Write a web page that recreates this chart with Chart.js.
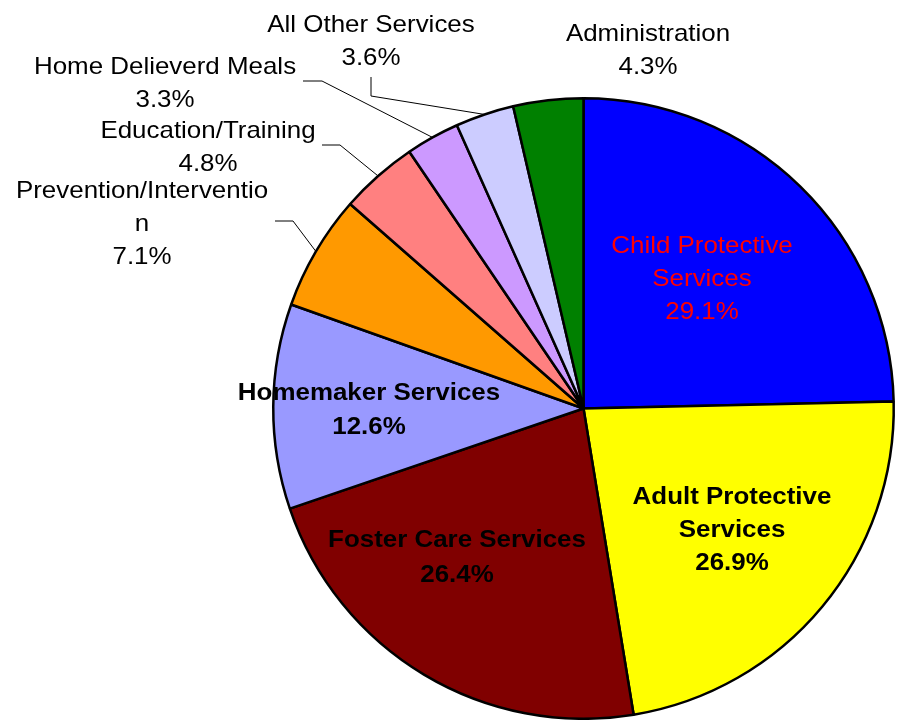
<!DOCTYPE html>
<html>
<head>
<meta charset="utf-8">
<script src="https://cdn.jsdelivr.net/npm/chart.js@4.4.0/dist/chart.umd.min.js"></script>
<style>
  html, body { margin: 0; padding: 0; background: #fff; }
  #wrap { width: 900px; height: 720px; }
</style>
</head>
<body>
<div id="wrap"><canvas id="pie" width="900" height="720"></canvas></div>
<script>
// data
const categories = [
  "Child Protective Services",
  "Adult Protective Services",
  "Foster Care Services",
  "Homemaker Services",
  "Prevention/Intervention",
  "Education/Training",
  "Home Delieverd Meals",
  "All Other Services",
  "Administration"
];
const values = [29.1, 26.9, 26.4, 12.6, 7.1, 4.8, 3.3, 3.6, 4.3];
const colors = ["#0000ff", "#ffff00", "#800000", "#9999ff", "#ff9900",
                "#ff8080", "#cc99ff", "#ccccff", "#008000"];

// how each label is written (Excel wrapped them by hand)
const labelLines = [
  ["Child Protective", "Services"],
  ["Adult Protective", "Services"],
  ["Foster Care Services"],
  ["Homemaker Services"],
  ["Prevention/Interventio", "n"],
  ["Education/Training"],
  ["Home Delieverd Meals"],
  ["All Other Services"],
  ["Administration"]
];

// label placement: x = centre of text, y = first baseline, lead = leader line start points
const labelLayout = [
  { x: 702, y: 253, color: "#ff0000", bold: false },
  { x: 732, y: 504, color: "#000", bold: true },
  { x: 457, y: 547, color: "#000", bold: true, gap: 35 },
  { x: 369, y: 400, color: "#000", bold: true, gap: 34 },
  { x: 142, y: 198, color: "#000", bold: false, lead: [[275, 221], [293, 221]] },
  { x: 208, y: 138, color: "#000", bold: false, lead: [[322, 145], [340, 145]] },
  { x: 165, y: 74, color: "#000", bold: false, lead: [[303, 81], [322, 81]] },
  { x: 371, y: 32, color: "#000", bold: false, lead: [[371, 77], [371, 96]] },
  { x: 648, y: 41, color: "#000", bold: false }
];

const sliceLabels = {
  id: "sliceLabels",
  afterDatasetsDraw(chart) {
    const { ctx } = chart;
    const arcs = chart.getDatasetMeta(0).data;
    ctx.save();

    // leader lines to the middle of each slice's outer edge
    ctx.strokeStyle = "#000";
    ctx.lineWidth = 1;
    arcs.forEach((arc, i) => {
      const lay = labelLayout[i];
      if (!lay.lead) return;
      const mid = (arc.startAngle + arc.endAngle) / 2;
      const ex = arc.x + Math.cos(mid) * arc.outerRadius;
      const ey = arc.y + Math.sin(mid) * arc.outerRadius;
      ctx.beginPath();
      ctx.moveTo(lay.lead[0][0], lay.lead[0][1]);
      ctx.lineTo(lay.lead[1][0], lay.lead[1][1]);
      ctx.lineTo(ex, ey);
      ctx.stroke();
    });

    // text, slightly stretched sideways like the original
    const sx = 1.08;
    ctx.textAlign = "center";
    ctx.textBaseline = "alphabetic";
    arcs.forEach((arc, i) => {
      const lay = labelLayout[i];
      const lines = labelLines[i].concat([values[i].toFixed(1) + "%"]);
      const gap = lay.gap || 33;
      ctx.font = (lay.bold ? "bold " : "") + "24px 'Liberation Sans', Arial, sans-serif";
      ctx.fillStyle = lay.color;
      lines.forEach((t, k) => {
        ctx.save();
        ctx.translate(lay.x, lay.y + k * gap);
        ctx.scale(sx, 1);
        ctx.fillText(t, 0, 0);
        ctx.restore();
      });
    });
    ctx.restore();
  }
};

new Chart(document.getElementById("pie"), {
  type: "pie",
  data: {
    labels: categories,
    datasets: [{
      data: values,
      backgroundColor: colors,
      borderColor: "#000",
      borderWidth: 2.5
    }]
  },
  options: {
    responsive: false,
    animation: false,
    layout: { padding: { top: 97, bottom: 0, left: 272, right: 5 } },
    plugins: {
      legend: { display: false },
      tooltip: { enabled: false }
    }
  },
  plugins: [sliceLabels]
});
</script>
</body>
</html>
